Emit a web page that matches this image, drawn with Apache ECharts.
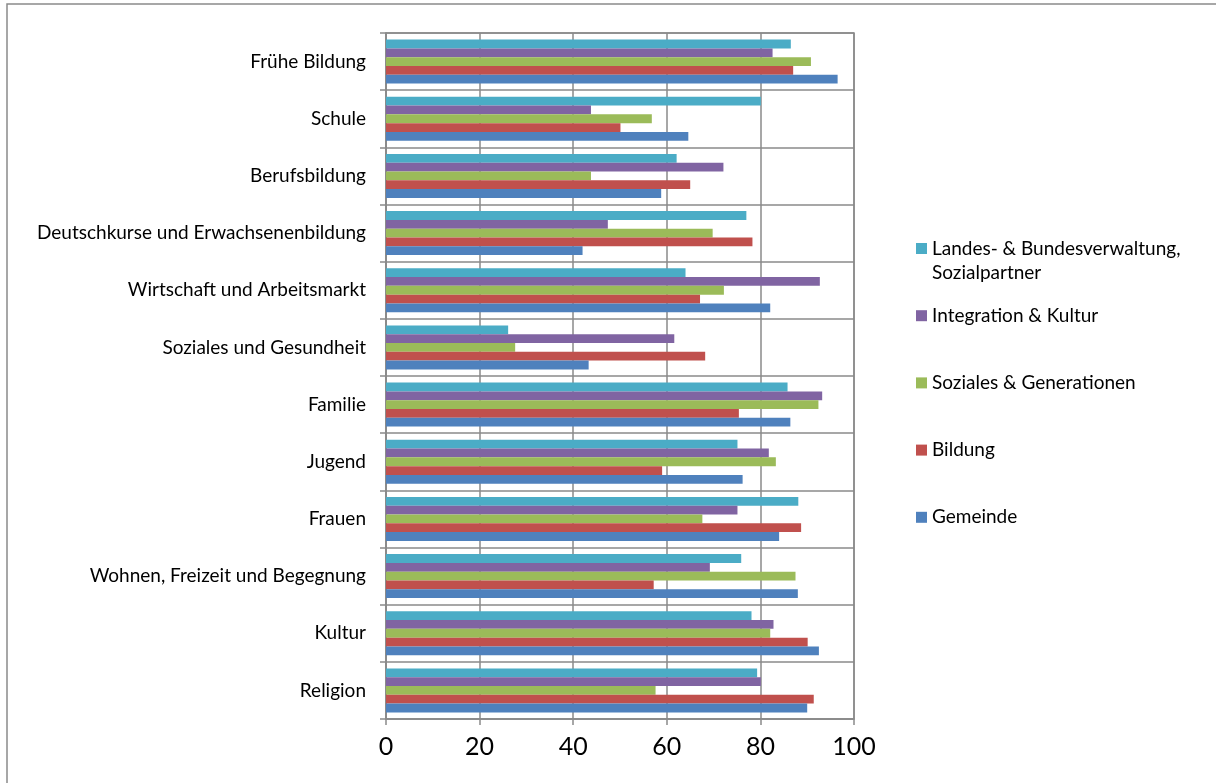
<!DOCTYPE html>
<html>
<head>
<meta charset="utf-8">
<script src="https://cdn.jsdelivr.net/npm/echarts@6/dist/echarts.min.js"></script>
<style>
html,body{margin:0;padding:0;background:#fff;}
#chart{width:1216px;height:783px;}
</style>
</head>
<body>
<div id="chart"></div>
<script>
const categories = ['Frühe Bildung','Schule','Berufsbildung','Deutschkurse und Erwachsenenbildung','Wirtschaft und Arbeitsmarkt','Soziales und Gesundheit','Familie','Jugend','Frauen','Wohnen, Freizeit und Begegnung','Kultur','Religion'];
const seriesNames = ['Landes- & Bundesverwaltung, Sozialpartner','Integration & Kultur','Soziales & Generationen','Bildung','Gemeinde'];
const landes      = [86.5, 80.1, 62.1, 77.0, 64.0, 26.1, 85.8, 75.1, 88.1, 75.9, 78.1, 79.3];
const integration = [82.6, 43.8, 72.1, 47.4, 92.7, 61.6, 93.2, 81.8, 75.1, 69.2, 82.8, 80.1];
const soziales    = [90.8, 56.8, 43.8, 69.8, 72.2, 27.6, 92.4, 83.3, 67.6, 87.5, 82.1, 57.6];
const bildung     = [87.0, 50.1, 65.0, 78.3, 67.1, 68.2, 75.4, 59.0, 88.7, 57.2, 90.1, 91.4];
const gemeinde    = [96.5, 64.6, 58.8, 42.0, 82.1, 43.3, 86.4, 76.2, 84.0, 88.0, 92.5, 90.0];
const xTicks = [0, 20, 40, 60, 80, 100];

const colors = ['#4BACC6','#8064A2','#9BBB59','#C0504D','#4F81BD'];
const values = [landes, integration, soziales, bildung, gemeinde];
const font = 'Lato, "Open Sans", sans-serif';
const gridColor = '#8a8a8a';

const chart = echarts.init(document.getElementById('chart'));
chart.setOption({
  animation: false,
  backgroundColor: '#fff',
  color: colors,
  grid: { left: 386, right: 362, top: 33, bottom: 64, show: true, borderColor: gridColor, borderWidth: 1.5 },
  xAxis: {
    type: 'value', min: xTicks[0], max: xTicks[xTicks.length-1], interval: 20,
    axisLine: { show: true, lineStyle: { color: gridColor, width: 1.5 } },
    axisTick: { show: true, length: 6, lineStyle: { color: gridColor, width: 1.5 } },
    splitLine: { show: true, lineStyle: { color: gridColor, width: 1.5 } },
    axisLabel: { color: '#000', fontSize: 25, fontFamily: font, margin: 15 }
  },
  yAxis: {
    type: 'category', data: categories, inverse: true,
    axisLine: { show: true, lineStyle: { color: gridColor, width: 1.5 } },
    axisTick: { show: true, length: 6, lineStyle: { color: gridColor, width: 1.5 } },
    splitLine: { show: true, lineStyle: { color: gridColor, width: 1.5 } },
    axisLabel: { color: '#000', fontSize: 19, fontFamily: font, margin: 20 }
  },
  legend: {
    orient: 'vertical', left: 916, top: 237.5, padding: 0,
    data: seriesNames,
    icon: 'rect', itemWidth: 11, itemHeight: 11, itemGap: 45.2,
    textStyle: { color: '#000', fontSize: 19, fontFamily: font, lineHeight: 22 },
    formatter: function (n) { return n === seriesNames[0] ? 'Landes- & Bundesverwaltung,' : n; }
  },
  graphic: [
    { type: 'rect', shape: { x: 7, y: 4, width: 1300, height: 900 }, style: { fill: 'none', stroke: gridColor, lineWidth: 1.5 }, silent: true },
    { type: 'text', x: 932, y: 273, style: { text: 'Sozialpartner', fill: '#000', font: '19px ' + font, textVerticalAlign: 'middle' } }
  ],
  series: seriesNames.map((n, i) => ({
    name: n, type: 'bar', data: values[i],
    barGap: '0%', barCategoryGap: '23%',
    itemStyle: { color: colors[i] }
  }))
});
</script>
</body>
</html>
